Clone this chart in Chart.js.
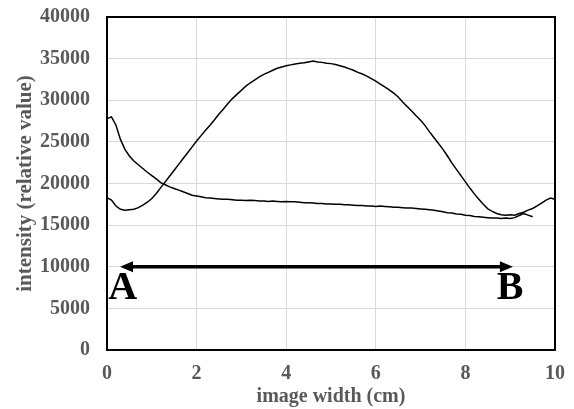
<!DOCTYPE html>
<html>
<head>
<meta charset="utf-8">
<script src="https://cdn.jsdelivr.net/npm/chart.js@4"></script>
<style>
  html, body { margin: 0; padding: 0; background: #fff; }
  #wrap { width: 574px; height: 409px; }
</style>
</head>
<body>
<div id="wrap"><canvas id="chart"></canvas></div>
<script>
// sampling step of both traces (cm)
const step = 0.1;

// trace with the hump (0 .. 10 cm)
const archValues = [
  18300, 18000, 17300, 16900, 16800, 16850, 16900, 17100, 17400, 17750,
  18200, 18800, 19500, 20200, 20900, 21600, 22300, 23000, 23700, 24400,
  25100, 25750, 26400, 27000, 27650, 28350, 28950, 29600, 30200, 30700,
  31200, 31700, 32100, 32450, 32800, 33100, 33350, 33600, 33850, 34000,
  34150, 34250, 34350, 34450, 34500, 34600, 34700, 34600, 34550, 34450,
  34400, 34300, 34150, 34000, 33800, 33600, 33350, 33150, 32900, 32600,
  32300, 31950, 31600, 31250, 30850, 30400, 29800, 29250, 28700, 28150,
  27600, 26950, 26200, 25500, 24800, 24100, 23300, 22450, 21700, 20950,
  20200, 19450, 18750, 18100, 17500, 16950, 16650, 16400, 16250, 16200,
  16250, 16200, 16400, 16550, 16800, 17000, 17300, 17650, 18000, 18250,
  18100
];

// decaying trace (0 .. 9.5 cm)
const decayValues = [
  27800, 28000, 27000, 25300, 24100, 23300, 22700, 22250, 21800, 21350,
  20950, 20550, 20100, 19850, 19600, 19400, 19200, 19000, 18800, 18600,
  18500, 18400, 18300, 18250, 18200, 18150, 18100, 18100, 18050, 18000,
  18000, 17950, 18000, 17950, 17900, 17900, 17850, 17900, 17850, 17800,
  17850, 17800, 17800, 17750, 17700, 17700, 17650, 17600, 17600, 17550,
  17550, 17500, 17500, 17450, 17450, 17400, 17350, 17350, 17300, 17300,
  17250, 17300, 17250, 17200, 17150, 17150, 17100, 17050, 17050, 17000,
  16950, 16900, 16850, 16800, 16700, 16600, 16500, 16450, 16350, 16300,
  16200, 16150, 16050, 16000, 15950, 15900, 15850, 15850, 15800, 15850,
  15800, 15900, 16150, 16400, 16200, 16000
];

// arrow A -> B
const arrowFrom = 0.29;
const arrowTo = 9.06;
const arrowLevel = 10000;
const markLabels = [
  { text: 'A', x: 0.35, y: 7400 },
  { text: 'B', x: 9.0, y: 7400 }
];

const toPoints = vals => vals.map((v, i) => ({ x: +(i * step).toFixed(2), y: v }));

const greyText = '#595959';
const serif = "'Liberation Serif', 'Times New Roman', serif";

const overlay = {
  id: 'overlay',
  afterDatasetsDraw(chart) {
    const { ctx, chartArea, scales } = chart;
    const xs = scales.x, ys = scales.y;
    ctx.save();

    // arrow
    const y = ys.getPixelForValue(arrowLevel);
    const x1 = xs.getPixelForValue(arrowFrom);
    const x2 = xs.getPixelForValue(arrowTo);
    const head = 13, half = 5.5;
    ctx.strokeStyle = '#000';
    ctx.fillStyle = '#000';
    ctx.lineWidth = 3.5;
    ctx.beginPath();
    ctx.moveTo(x1 + head - 2, y);
    ctx.lineTo(x2 - head + 2, y);
    ctx.stroke();
    ctx.beginPath();
    ctx.moveTo(x1, y);
    ctx.lineTo(x1 + head, y - half);
    ctx.lineTo(x1 + head, y + half);
    ctx.closePath();
    ctx.fill();
    ctx.beginPath();
    ctx.moveTo(x2, y);
    ctx.lineTo(x2 - head, y - half);
    ctx.lineTo(x2 - head, y + half);
    ctx.closePath();
    ctx.fill();

    // A / B labels
    ctx.font = 'bold 40px ' + serif;
    ctx.textAlign = 'center';
    ctx.textBaseline = 'middle';
    markLabels.forEach(m => {
      ctx.fillText(m.text, xs.getPixelForValue(m.x), ys.getPixelForValue(m.y));
    });

    // plot frame
    ctx.lineWidth = 2;
    ctx.strokeRect(chartArea.left, chartArea.top,
      chartArea.right - chartArea.left, chartArea.bottom - chartArea.top);
    ctx.restore();
  }
};

new Chart(document.getElementById('chart'), {
  type: 'line',
  data: {
    datasets: [
      {
        data: toPoints(archValues),
        borderColor: '#000',
        borderWidth: 1.5,
        pointRadius: 0,
        tension: 0
      },
      {
        data: toPoints(decayValues),
        borderColor: '#000',
        borderWidth: 1.5,
        pointRadius: 0,
        tension: 0
      }
    ]
  },
  options: {
    responsive: true,
    maintainAspectRatio: false,
    animation: false,
    layout: { padding: { left: 13, right: 19, top: 17, bottom: 0 } },
    plugins: {
      legend: { display: false },
      tooltip: { enabled: false }
    },
    scales: {
      x: {
        type: 'linear',
        min: 0,
        max: 10,
        afterFit: s => {
          s.height = 59;
          s.paddingLeft = 0;
          s.paddingRight = 0;
        },
        ticks: {
          stepSize: 2,
          padding: 12,
          color: greyText,
          font: { family: serif, size: 20, weight: 'bold' },
          callback: v => String(v)
        },
        grid: { color: '#d9d9d9', lineWidth: 1, drawTicks: false },
        border: { display: false },
        title: {
          display: true,
          text: 'image width (cm)',
          color: greyText,
          padding: 0,
          font: { family: serif, size: 20, weight: 'bold' }
        }
      },
      y: {
        min: 0,
        max: 40000,
        afterFit: s => {
          s.width = 94;
          s.paddingTop = 0;
          s.paddingBottom = 0;
        },
        ticks: {
          stepSize: 5000,
          padding: 17,
          color: greyText,
          font: { family: serif, size: 20, weight: 'bold' },
          callback: v => String(v)
        },
        grid: { color: '#d9d9d9', lineWidth: 1, drawTicks: false },
        border: { display: false },
        title: {
          display: true,
          text: 'intensity (relative value)',
          color: greyText,
          padding: 0,
          font: { family: serif, size: 21, weight: 'bold' }
        }
      }
    }
  },
  plugins: [overlay]
});
</script>
</body>
</html>
